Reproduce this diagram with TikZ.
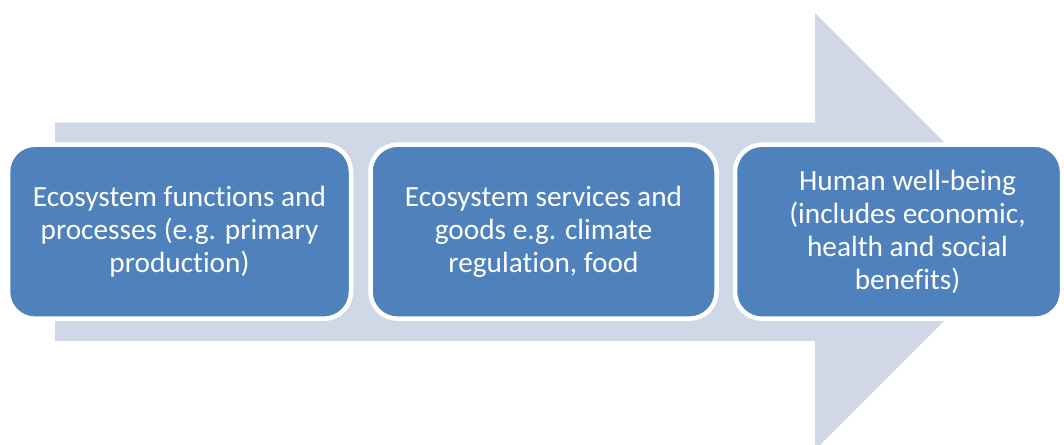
\documentclass[tikz,border=0pt]{standalone}
\usepackage{fontspec}
\setmainfont[Ligatures={NoCommon}]{Carlito}
\usetikzlibrary{positioning}
\definecolor{arrowgray}{HTML}{D0D8E8}
\definecolor{boxblue}{HTML}{4F81BD}
\tikzset{
  stage/.style={draw=white, line width=4.5pt, fill=boxblue, rounded corners=27pt,
    minimum height=174pt, text=white, align=center, inner sep=0pt,
    font=\fontsize{29.3}{33}\selectfont},
  stagetext/.style={text=white, align=center, inner sep=0pt,
    font=\fontsize{29.3}{33}\selectfont}
}

\begin{document}
\begin{tikzpicture}[x=1pt,y=-1pt]
  \useasboundingbox (0,0) rectangle (1064,444);
  % big background arrow
  \fill[arrowgray]
    (55,122.5) -- (815,122.5) -- (815,13) -- (1033.5,231.5)
    -- (815,450) -- (815,341) -- (55,341) -- cycle;

  \node[stage, minimum width=343pt] (functions) at (179.5,231.7)
    {Ecosystem functions and\\processes (e.g. primary\\production)};
  \node[stage, minimum width=346pt] (services) at (543.5,231.7)
    {Ecosystem services and\\goods e.g. climate\\regulation, food};
  \node[stage, minimum width=327pt] (wellbeing) at (898.5,231.7) {};
  \node[stagetext] (wellbeingtext) at ([xshift=9pt]wellbeing.center)
    {Human well-being\\(includes economic,\\health and social\\benefits)};
\end{tikzpicture}
\end{document}
